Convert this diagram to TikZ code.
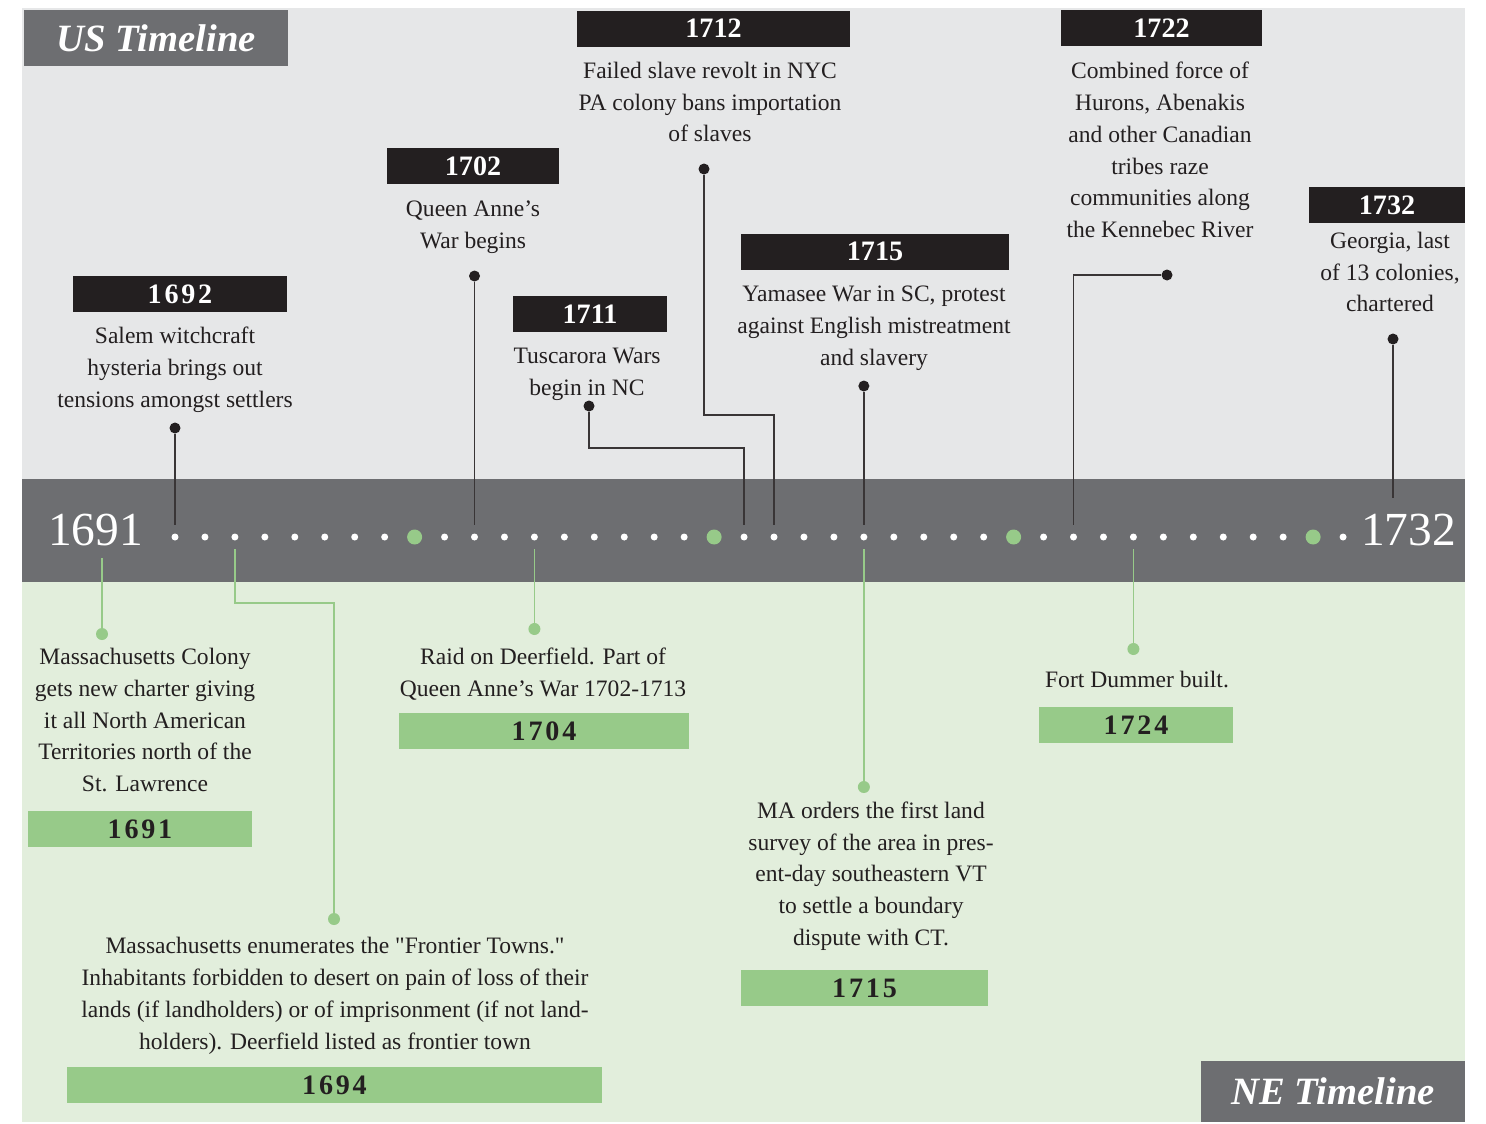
\documentclass[tikz,border=0pt]{standalone}
\usepackage{fontspec}
\setmainfont{Liberation Serif}
\newfontfamily\qfont{Liberation Serif}
\usepackage{xcolor}
\usepackage{tikz}
\usetikzlibrary{calc}
\definecolor{bandgray}{HTML}{6D6E71}
\definecolor{topgray}{HTML}{E6E7E8}
\definecolor{lowgreen}{HTML}{E2EEDC}
\definecolor{tlgreen}{HTML}{97CA89}
\definecolor{inkblack}{HTML}{231F20}

\begin{document}
\begin{tikzpicture}[x=0.02cm,y=-0.02cm,
	desc/.style={align=center,text=inkblack,inner sep=0pt,font=\fontsize{13.4}{18.1}\selectfont},
	yrbox/.style={fill=inkblack,text=white,inner sep=0pt,minimum height=0.72cm,font=\fontsize{16}{18}\selectfont\bfseries},
	wideyr/.style={font=\fontsize{16}{18}\selectfont\bfseries\addfontfeature{LetterSpace=10}},
	grbox/.style={fill=tlgreen,text=inkblack,inner sep=0pt,minimum height=0.72cm,wideyr},
	ttl/.style={fill=bandgray,text=white,inner sep=0pt,font=\fontsize{22}{26}\selectfont\bfseries\itshape},
	bigyr/.style={text=white,inner sep=0pt,font=\fontsize{27}{30}\selectfont},
	tdot/.style={circle,fill=white,inner sep=0pt,minimum size=0.14cm},
	bigdot/.style={circle,fill=tlgreen,inner sep=0pt,minimum size=0.3cm},
	bdot/.style={circle,fill=inkblack,inner sep=0pt,minimum size=0.22cm},
	gdot/.style={circle,fill=tlgreen,inner sep=0pt,minimum size=0.24cm},
	bline/.style={draw=inkblack!90,line width=0.8pt,shorten >=0.17cm},
	gline/.style={draw=tlgreen,line width=0.8pt,shorten <=0.16cm}]
	\useasboundingbox (0,0) rectangle (1486,1123);
	% backgrounds
	\fill[topgray] (22,8) rectangle (1465,479);
	\fill[bandgray] (22,479) rectangle (1465,582);
	\fill[lowgreen] (22,582) rectangle (1465,1122);
	\node[ttl,minimum width=5.28cm,minimum height=1.12cm] (ust) at (156,38) {US Timeline};
	\node[ttl,minimum width=5.28cm,minimum height=1.22cm] (net) at (1333,1091.5) {NE Timeline};
	% the time line
	\node[bigyr] (y1691) at (95.5,530) {1691};
	\node[bigyr] (y1732) at (1408.5,530) {1732};
	\foreach \yr in {1692,...,1731}{
		\pgfmathtruncatemacro\dec{mod(\yr,10)}
		\ifnum\dec=0
		\node[bigdot] (t\yr) at ({175+(\yr-1692)*29.95},537) {};
		\else
		\node[tdot] (t\yr) at ({175+(\yr-1692)*29.95},537) {};
		\fi
	}
	% US events
	\node[yrbox,wideyr,minimum width=4.28cm] (h1692) at (180,294) {1692};
	\node[desc] (s1692) at (175,370) {Salem witchcraft\\hysteria brings out\\tensions amongst settlers};
	\node[bdot] (d1692) at (t1692 |- 0,428) {};
	\draw[bline] (d1692) -- (t1692);
	
	\node[yrbox,minimum width=3.44cm] (h1702) at (473,166) {1702};
	\node[desc] (s1702) at (473,227) {Queen Anne’s\\War begins};
	\node[bdot] (d1702) at (t1702 |- 0,276) {};
	\draw[bline] (d1702) -- (t1702);
	
	\node[yrbox,minimum width=3.08cm] (h1711) at (590,314) {1711};
	\node[desc] (s1711) at (587,374) {Tuscarora Wars\\begin in NC};
	\node[bdot] (d1711) at (589,406) {};
	\coordinate (k1711) at (t1711 |- 0,448);
	\draw[bline] (d1711) |- (k1711) -- (t1711);
	
	\node[yrbox,minimum width=5.46cm] (h1712) at (713.5,28.5) {1712};
	\node[desc] (s1712) at (710,102) {Failed slave revolt in NYC\\PA colony bans importation\\of slaves};
	\node[bdot] (d1712) at (704,169) {};
	\coordinate (k1712) at (t1712 |- 0,415);
	\draw[bline] (d1712) |- (k1712) -- (t1712);
	
	\node[yrbox,minimum width=5.36cm] (h1715) at (875,251.5) {1715};
	\node[desc] (s1715) at (874,328) {Yamasee War in SC, protest\\against English mistreatment\\and slavery};
	\node[bdot] (d1715) at (t1715 |- 0,386) {};
	\draw[bline] (d1715) -- (t1715);
	
	\node[yrbox,minimum width=4.02cm] (h1722) at (1161.5,28) {1722};
	\node[desc] (s1722) at (1160,150) {Combined force of\\Hurons, Abenakis\\and other Canadian\\tribes raze\\communities along\\the Kennebec River};
	\node[bdot] (d1722) at (1167,275) {};
	\draw[bline] (d1722) -| (t1722);
	
	\node[yrbox,minimum width=3.12cm] (h1732) at (1387,205) {1732};
	\node[desc] (s1732) at (1390,272) {Georgia, last\\of 13 colonies,\\chartered};
	\node[bdot] (d1732) at (1393,339) {};
	\draw[bline,shorten >=0.32cm] (d1732) -- (d1732 |- y1732.north);
	% NE events
	\node[gdot] (e1691) at (102,634) {};
	\draw[gline,shorten <=0.24cm] (e1691 |- y1691.south) -- (e1691);
	\node[desc] (n1691) at (145,720) {Massachusetts Colony\\gets new charter giving\\it all North American\\Territories north of the\\St. Lawrence};
	\node[grbox,minimum width=4.48cm] (g1691) at (140,829) {1691};
	
	\node[gdot] (e1694) at (334,919) {};
	\coordinate (k1694) at (e1694 |- 0,603);
	\draw[gline] (t1694) |- (k1694) -- (e1694);
	\node[desc] (n1694) at (335,996) {Massachusetts enumerates the {\qfont"}Frontier Towns.{\qfont"}\\Inhabitants forbidden to desert on pain of loss of their\\lands (if landholders) or of imprisonment (if not land-\\holders). Deerfield listed as frontier town};
	\node[grbox,minimum width=10.7cm] (g1694) at (334.5,1085) {1694};
	
	\node[gdot] (e1704) at (t1704 |- 0,629) {};
	\draw[gline] (t1704) -- (e1704);
	\node[desc] (n1704) at (543,674) {Raid on Deerfield. Part of\\Queen Anne’s War 1702-1713};
	\node[grbox,minimum width=5.8cm] (g1704) at (544,731) {1704};
	
	\node[gdot] (e1715) at (t1715 |- 0,787) {};
	\draw[gline] (t1715) -- (e1715);
	\node[desc] (n1715) at (871,876) {MA orders the first land\\survey of the area in pres-\\ent-day southeastern VT\\to settle a boundary\\dispute with CT.};
	\node[grbox,minimum width=4.94cm] (g1715) at (864.5,988) {1715};
	
	\node[gdot] (e1724) at (t1724 |- 0,649) {};
	\draw[gline] (t1724) -- (e1724);
	\node[desc] (n1724) at (1137,679) {Fort Dummer built.};
	\node[grbox,minimum width=3.88cm] (g1724) at (1136,725) {1724};
\end{tikzpicture}
\end{document}
